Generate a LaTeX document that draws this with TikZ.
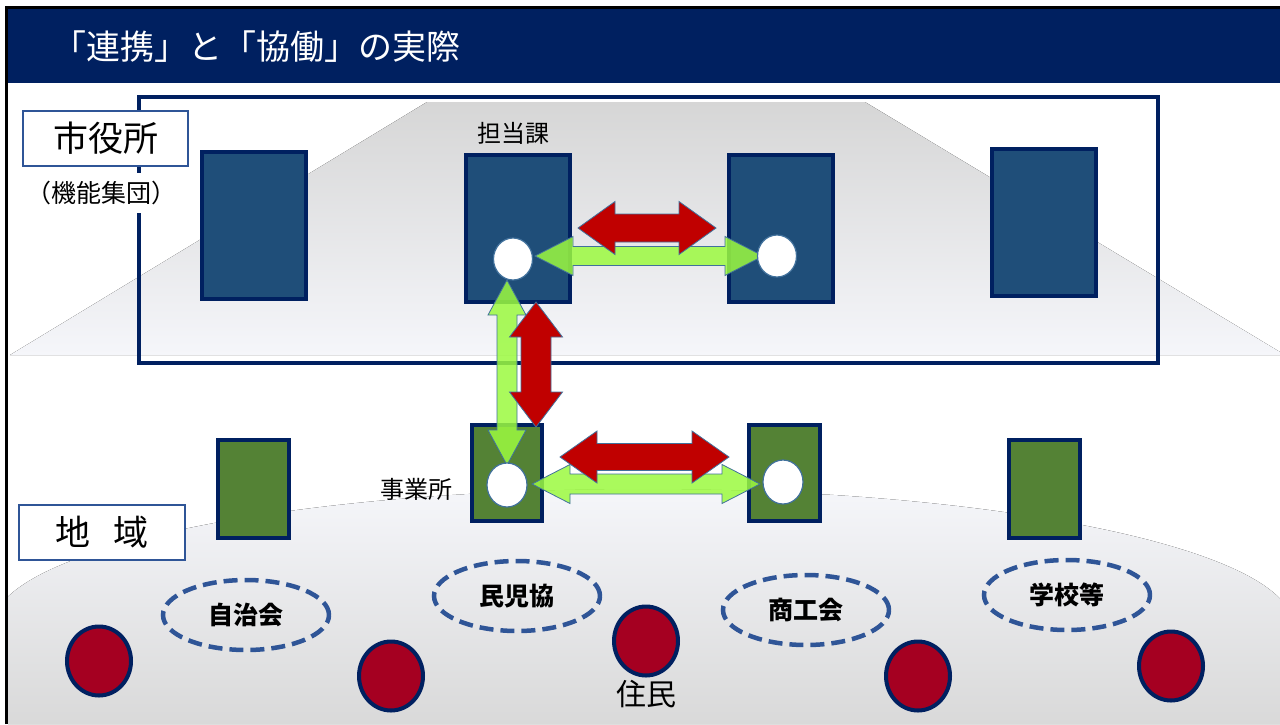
\documentclass[tikz,border=0pt]{standalone}
\usepackage{fontspec}
\setmainfont{Noto Sans CJK JP}
\usetikzlibrary{calc,shapes.geometric}
\definecolor{navy}{HTML}{002060}
\definecolor{boxblue}{HTML}{1F4E79}
\definecolor{boxgreen}{HTML}{548235}
\definecolor{dotred}{HTML}{A50021}
\definecolor{dashblue}{HTML}{2F5597}
\definecolor{arrred}{HTML}{C00000}
\definecolor{arrgreen}{HTML}{9CFA40}
\definecolor{arredge}{HTML}{41719C}
\definecolor{trapTop}{HTML}{D6D6D6}
\definecolor{trapBot}{HTML}{F5F6FA}
\definecolor{domeTop}{HTML}{F5F6FA}
\definecolor{domeBot}{HTML}{D9D9D9}
\newcommand\blockarrow[6]{%
  \path[#1] (#2) -- ($(#2)!#6!(#3)!#5!90:(#3)$) -- ($(#2)!#6!(#3)!#4!90:(#3)$)
    -- ($(#3)!#6!(#2)!#4!-90:(#2)$) -- ($(#3)!#6!(#2)!#5!-90:(#2)$) -- (#3)
    -- ($(#3)!#6!(#2)!#5!90:(#2)$) -- ($(#3)!#6!(#2)!#4!90:(#2)$)
    -- ($(#2)!#6!(#3)!#4!-90:(#3)$) -- ($(#2)!#6!(#3)!#5!-90:(#3)$) -- cycle;}
\begin{document}
\begin{tikzpicture}[x=1pt,y=-1pt,
  bluebox/.style={draw=navy, fill=boxblue, line width=4pt, inner sep=0pt, minimum width=104pt, minimum height=147pt},
  greenbox/.style={draw=navy, fill=boxgreen, line width=4pt, inner sep=0pt, minimum width=71pt, minimum height=97pt},
  hole/.style={ellipse, draw=arredge, fill=white, line width=1.2pt, inner sep=0pt, minimum width=39pt, minimum height=42pt},
  resident/.style={ellipse, draw=navy, fill=dotred, line width=4pt, inner sep=0pt, minimum width=64pt, minimum height=69pt},
  group/.style={ellipse, draw=dashblue, line width=4.5pt, dash pattern=on 14pt off 7pt, inner sep=0pt, minimum width=166pt, minimum height=70pt, font=\bfseries\fontsize{25}{28}\selectfont},
  labelbox/.style={draw=dashblue, fill=white, line width=1.2pt, inner sep=0pt, minimum width=165pt, minimum height=55pt, font=\fontsize{35}{40}\selectfont},
  smalltext/.style={font=\fontsize{24}{28}\selectfont, inner sep=0pt},
  redarrow/.style={fill=arrred, draw=arredge, line width=0.8pt},
  greenarrow/.style={fill=arrgreen, fill opacity=0.85, draw=arredge, draw opacity=1, line width=0.8pt}]
\useasboundingbox (0,0) rectangle (1280,724);
\fill[white] (0,0) rectangle (1280,724);
% title bar
\fill[navy] (7,8) rectangle (1280,83);
\node[anchor=west, text=white, inner sep=0pt, font=\fontsize{34}{40}\selectfont] (title) at (52,47) {「連携」と「協働」の実際};
% background shapes
\fill[top color=trapTop, bottom color=trapBot] (427,102) -- (865,102) -- (1280,352) -- (1280,355) -- (10,355) -- cycle;
\begin{scope}
  \clip (8,84) rectangle (1280,724);
  \fill[top color=domeTop, bottom color=domeBot] (-7,626) arc[start angle=180, end angle=360, x radius=650, y radius=137] -- (1293,724) -- (-7,724) -- cycle;
\end{scope}
\draw[black, line width=3pt] (6.5,724) -- (6.5,7.5) -- (1280,7.5);
% city hall frame
\node[draw=navy, line width=3.5pt, inner sep=0pt, minimum width=1019pt, minimum height=266pt, anchor=north west] (cityframe) at (137,95) {};
\node[labelbox] (cityhall) at (105.5,138.5) {市役所};
\node[smalltext, fill=white, inner ysep=8pt, inner xsep=0pt, font=\fontsize{25}{28}\selectfont] (functional) at (102,193) {（機能集団）};
\node[labelbox, minimum width=166pt] (region) at (102,532.5) {地\hspace{24pt}域};
% departments
\node[bluebox] (b1) at (254,225) {};
\node[bluebox] (b2) at (517.5,228.5) {};
\node[bluebox] (b3) at (780.5,228.5) {};
\node[bluebox] (b4) at (1043.5,222.5) {};
\node[smalltext] (tanto) at (513,133) {担当課};
% offices
\node[greenbox, minimum height=98pt] (o1) at (253,489) {};
\node[greenbox, minimum width=70pt, minimum height=96pt] (o2) at (507,473) {};
\node[greenbox, minimum height=96pt] (o3) at (784.5,473) {};
\node[greenbox, minimum height=98pt] (o4) at (1044.5,489) {};
\node[smalltext] (jigyosho) at (416,489) {事業所};
% groups
\node[group] (jichikai) at (246,615) {自治会};
\node[group] (minjikyo) at (517,596) {民児協};
\node[group] (shokokai) at (806,610) {商工会};
\node[group] (gakko) at (1067,595) {学校等};
% residents
\node[resident] (r1) at (99,661) {};
\node[resident] (r2) at (391,676) {};
\node[resident] (r3) at (646,641) {};
\node[resident] (r4) at (918,676) {};
\node[resident] (r5) at (1171,666) {};
\node[inner sep=0pt, font=\fontsize{30}{34}\selectfont] (jumin) at (646,694) {住民};
% arrow end points
\coordinate (gtA) at (535,256);  \coordinate (gtB) at (763,256);
\coordinate (gvA) at (507,280);  \coordinate (gvB) at (507,465);
\coordinate (gbA) at (532,484);  \coordinate (gbB) at (760,484);
\coordinate (rtA) at (578,228);  \coordinate (rtB) at (716,228);
\coordinate (rvA) at (536,302);  \coordinate (rvB) at (536,427);
\coordinate (rbA) at (560,457);  \coordinate (rbB) at (729,457);
% green arrows
\blockarrow{greenarrow}{gtA}{gtB}{9.5pt}{19.5pt}{38pt}
\blockarrow{greenarrow}{gvA}{gvB}{10pt}{19pt}{35pt}
\blockarrow{greenarrow}{gbA}{gbB}{10pt}{19.5pt}{38pt}
% contact points
\node[hole] (h2) at (513,259) {};
\node[hole] (h3) at (777,256) {};
\node[hole, minimum width=40pt, minimum height=44pt] (k2) at (507,485) {};
\node[hole, minimum width=40pt, minimum height=44pt] (k3) at (783,482) {};
% red arrows
\blockarrow{redarrow}{rtA}{rtB}{14pt}{26.5pt}{37pt}
\blockarrow{redarrow}{rvA}{rvB}{15pt}{26.5pt}{35pt}
\blockarrow{redarrow}{rbA}{rbB}{13.5pt}{26pt}{37pt}
\end{tikzpicture}
\end{document}
